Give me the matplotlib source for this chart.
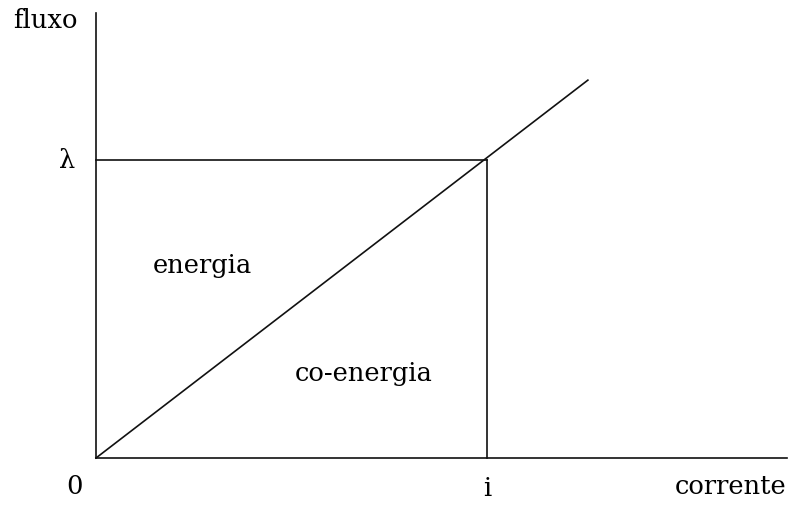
import matplotlib
matplotlib.use("Agg")
import matplotlib.pyplot as plt

# data (normalized units: i = 1, lambda = 1)
i_val = 1.0
lam_val = 1.0
line_x = [0.0, 1.258]
line_y = [0.0, 1.268]
x_axis_end = 1.767
y_axis_end = 1.493
labels = {"y": "fluxo", "x": "corrente", "origin": "0", "i": "i", "lam": "λ",
          "area_top": "energia", "area_bottom": "co-energia"}

fig = plt.figure(figsize=(7.92, 5.07), dpi=100)
ax = fig.add_axes([0, 0, 1, 1])
ax.set_xlim(-96/391, 696/391)
ax.set_ylim(-49/298, 458/298)
ax.axis("off")

lw = 1.2
c = "#111111"
ax.plot([0, x_axis_end], [0, 0], color=c, lw=lw)
ax.plot([0, 0], [0, y_axis_end], color=c, lw=lw)
ax.plot(line_x, line_y, color=c, lw=lw)
ax.plot([0, i_val], [lam_val, lam_val], color=c, lw=lw)
ax.plot([i_val, i_val], [0, lam_val], color=c, lw=lw)

fam = ["DejaVu Serif"]
fs = 18.5
def px(x, y):
    return ((x - 96) / 391, (458 - y) / 298)

ax.text(*px(45, 20), labels["y"], fontsize=fs, family=fam, ha="center", va="center")
ax.text(*px(731, 486), labels["x"], fontsize=fs, family=fam, ha="center", va="center")
ax.text(*px(75, 487), labels["origin"], fontsize=fs, family=fam, ha="center", va="center")
ax.text(*px(487, 489), labels["i"], fontsize=fs, family=fam, ha="center", va="center")
ax.text(*px(67, 161), labels["lam"], fontsize=fs, family=fam, ha="center", va="center")
ax.text(*px(202, 266), labels["area_top"], fontsize=fs, family=fam, ha="center", va="center")
ax.text(*px(364, 373), labels["area_bottom"], fontsize=fs, family=fam, ha="center", va="center")

fig.savefig("out.png", dpi=100)
